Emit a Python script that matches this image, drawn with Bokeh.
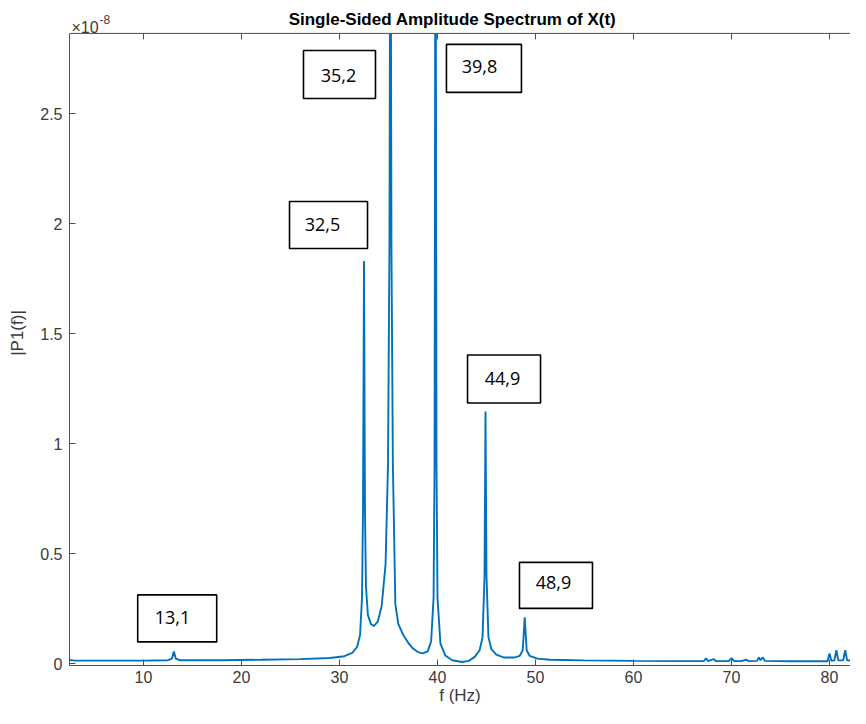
from bokeh.plotting import figure
from bokeh.models import ColumnDataSource, Range1d, FixedTicker, Span
from bokeh.core.properties import value
from bokeh.embed import file_html
from bokeh.resources import INLINE

# ---- data (amplitude in units of 1e-8) ----
freq = [2.45, 3.0, 6.0, 10.0, 12.5, 12.9, 13.1, 13.3, 13.7, 18.0, 22.0, 26.0, 29.0,
        30.5, 31.3, 31.8, 32.1, 32.3, 32.4, 32.5, 32.6, 32.7, 32.9, 33.2, 33.5, 33.9,
        34.3, 34.7, 34.95, 35.1, 35.2, 35.3, 35.45, 35.7, 36.0, 36.5, 37.0, 37.5, 38.0,
        38.5, 39.0, 39.35, 39.6, 39.7, 39.8, 39.9, 40.0, 40.3, 40.8, 41.5, 42.5, 43.2,
        43.8, 44.3, 44.6, 44.8, 44.9, 45.0, 45.2, 45.5, 46.0, 46.8, 47.8, 48.4, 48.7,
        48.9, 49.1, 49.4, 50.2, 51.5, 55.0, 60.0, 65.0, 67.2, 67.4, 67.6, 68.2, 68.4,
        68.6, 69.7, 70.0, 70.3, 71.0, 71.5, 71.8, 72.6, 72.8, 72.95, 73.2, 73.4, 76.0,
        79.8, 80.0, 80.2, 80.5, 80.7, 80.9, 81.4, 81.6, 81.8, 82.7, 82.9, 83.1, 84.0]
amp = [0.016, 0.013, 0.013, 0.013, 0.015, 0.022, 0.055, 0.022, 0.015, 0.015, 0.017, 0.020, 0.025,
       0.033, 0.048, 0.075, 0.13, 0.30, 0.70, 1.83, 0.70, 0.35, 0.22, 0.18, 0.17, 0.19,
       0.26, 0.45, 0.90, 1.90, 4.0, 1.90, 0.90, 0.27, 0.18, 0.13, 0.095, 0.068, 0.052,
       0.046, 0.055, 0.10, 0.30, 0.90, 4.0, 0.90, 0.30, 0.09, 0.036, 0.015, 0.007, 0.012,
       0.03, 0.06, 0.12, 0.40, 1.145, 0.40, 0.12, 0.065, 0.04, 0.027, 0.027, 0.035, 0.06,
       0.21, 0.06, 0.035, 0.022, 0.017, 0.014, 0.012, 0.011, 0.011, 0.024, 0.011, 0.020, 0.011,
       0.011, 0.011, 0.024, 0.011, 0.011, 0.017, 0.011, 0.012, 0.028, 0.015, 0.028, 0.012, 0.010,
       0.010, 0.045, 0.012, 0.014, 0.060, 0.014, 0.014, 0.060, 0.014, 0.013, 0.050, 0.012, 0.010]

x_ticks = [10, 20, 30, 40, 50, 60, 70, 80]
y_ticks = [0, 0.5, 1, 1.5, 2, 2.5]
y_tick_labels = ["0", "0.5", "1", "1.5", "2", "2.5"]

title_text = "Single-Sided Amplitude Spectrum of X(t)"
x_label = "f (Hz)"
y_label = "|P1(f)|"

# annotation boxes: peak labels
ann_text = ["13,1", "32,5", "35,2", "39,8", "44,9", "48,9"]
ann_text_x = [12.96, 28.27, 29.90, 44.29, 46.63, 51.84]
ann_text_y = [0.207, 1.995, 2.673, 2.714, 1.295, 0.368]
ann_box_x = [13.44, 28.88, 30.0, 44.74, 46.79, 52.09]
ann_box_y = [0.205, 1.993, 2.677, 2.705, 1.293, 0.355]
ann_box_w = [79, 78, 72, 75, 73, 73]
ann_box_h = [47, 47, 48, 48, 48, 46]

# ---- geometry ----
PX_PER_X = 9.8      # px per Hz
PX_PER_Y = 220.0    # px per 1e-8
X0 = 2.45
X1 = X0 + 781 / PX_PER_X
Y_TOP = 2.864               # top border of the axes box
Y0 = -2 / PX_PER_Y
Y_CANVAS = 663 / PX_PER_Y   # data value at canvas top

AX = "#4d4d4d"
TXT = "#3a3a3a"
FONT = "Liberation Sans"

p = figure(width=850, height=708, output_backend="svg", toolbar_location=None,
           x_range=Range1d(X0, X1), y_range=Range1d(Y0, Y_CANVAS),
           min_border_left=69, min_border_right=0, min_border_top=0, min_border_bottom=43)
p.outline_line_color = None
p.grid.visible = False
p.background_fill_color = "white"
p.border_fill_color = "white"

src = ColumnDataSource(dict(f=freq, a=amp))
line_r = p.line("f", "a", source=src, line_color="#0072BD", line_width=1.9)
line_r.level = "underlay"

# white area above the axes box (where the title sits)
mask = p.quad(left=[X0], right=[X1], bottom=[Y_TOP], top=[Y_CANVAS + 1],
              fill_color="white", line_color=None)
mask.level = "annotation"
# top border and inward ticks
top_border = Span(location=Y_TOP, dimension="width", line_color=AX, line_width=1)
top_border.level = "overlay"
p.add_layout(top_border)
ticks_r = p.segment(x0=x_ticks, x1=x_ticks, y0=[Y_TOP] * len(x_ticks),
                    y1=[Y_TOP - 6 / PX_PER_Y] * len(x_ticks), line_color=AX, line_width=1)
ticks_r.level = "overlay"

boxes = ColumnDataSource(dict(x=ann_box_x, y=ann_box_y, w=ann_box_w, h=ann_box_h))
p.rect("x", "y", width="w", height="h", width_units="screen", height_units="screen",
       source=boxes, fill_color="white", line_color="black", line_width=1.6)
labs = ColumnDataSource(dict(x=ann_text_x, y=ann_text_y, t=ann_text))
p.text("x", "y", text="t", source=labs, text_font=value("Open Sans"), text_font_size="18px",
       text_align="center", text_baseline="middle", text_color="black")

# title and exponent
t1 = p.text(x=[X0 + (452 - 69) / PX_PER_X], y=[(663 - 19) / PX_PER_Y], text=[title_text],
            text_font=value(FONT), text_font_size="17px", text_font_style="bold",
            text_color="black", text_align="center", text_baseline="middle")
t2 = p.text(x=[X0 + 2 / PX_PER_X], y=[(663 - 27) / PX_PER_Y], text=["\u00d710"],
            text_font=value(FONT), text_font_size="16px", text_color=TXT,
            text_align="left", text_baseline="alphabetic")
t3 = p.text(x=[X0 + 30 / PX_PER_X], y=[(663 - 19) / PX_PER_Y], text=["-8"],
            text_font=value(FONT), text_font_size="12px", text_color=TXT,
            text_align="left", text_baseline="alphabetic")
for r in (t1, t2, t3):
    r.level = "overlay"

# axes
for ax in (p.xaxis[0], p.yaxis[0]):
    ax.axis_line_color = AX
    ax.major_tick_line_color = AX
    ax.major_tick_in = 6
    ax.major_tick_out = 0
    ax.minor_tick_line_color = None
    ax.major_label_text_font = FONT
    ax.major_label_text_font_size = "16px"
    ax.major_label_text_color = TXT
    ax.axis_label_text_font = FONT
    ax.axis_label_text_font_size = "17px"
    ax.axis_label_text_font_style = "normal"
    ax.axis_label_text_color = TXT

p.xaxis[0].ticker = FixedTicker(ticks=x_ticks)
p.xaxis[0].axis_label = x_label
p.xaxis[0].major_label_standoff = 5
p.xaxis[0].axis_label_standoff = 0
p.yaxis[0].ticker = FixedTicker(ticks=y_ticks)
p.yaxis[0].major_label_overrides = {t: l for t, l in zip(y_ticks, y_tick_labels)}
p.yaxis[0].axis_label = y_label
p.yaxis[0].major_label_standoff = 7
p.yaxis[0].axis_label_standoff = 10
p.yaxis[0].bounds = (Y0, Y_TOP)

open("out.html", "w").write(file_html(p, INLINE))
